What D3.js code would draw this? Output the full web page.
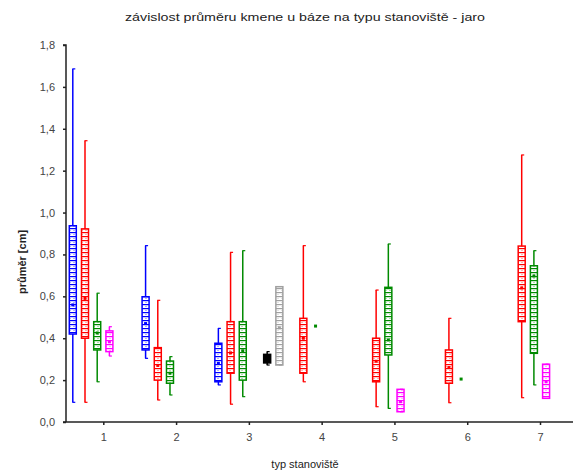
<!DOCTYPE html>
<html><head><meta charset="utf-8">
<script src="https://cdn.jsdelivr.net/npm/d3@7"></script>
<style>body{margin:0;background:#fff}svg{display:block}text{font-family:Arial,"Liberation Sans",sans-serif}</style>
</head><body>
<svg id="c" width="573" height="475"></svg>
<script>
const categories = [1, 2, 3, 4, 5, 6, 7];
const yTicks = [0, 0.2, 0.4, 0.6, 0.8, 1.0, 1.2, 1.4, 1.6, 1.8];
const seriesNames = ["blue", "red", "green", "magenta", "black", "gray"];
const seriesColors = ["#0000ff", "#ff0000", "#008a00", "#ff00ff", "#000000", "#a0a0a0"];
// each entry per category: [min, q1, median, q3, max] or null
const blueVals = [[0.094,0.42,0.559,0.937,1.686],[0.304,0.344,0.47,0.598,0.842],[0.177,0.192,0.28,0.376,0.447],null,null,null,null];
const redVals = [[0.094,0.40,0.59,0.922,1.343],[0.105,0.20,0.27,0.355,0.581],[0.085,0.233,0.33,0.479,0.81],[0.192,0.233,0.40,0.495,0.842],[0.073,0.192,0.29,0.40,0.63],[0.092,0.185,0.26,0.344,0.495],[0.116,0.479,0.64,0.84,1.275]];
const greenVals = [[0.192,0.344,0.425,0.479,0.615],[0.129,0.185,0.233,0.291,0.312],[0.121,0.20,0.34,0.479,0.818],[0.458,0.458,0.458,0.458,0.458],[0.065,0.32,0.392,0.643,0.85],[0.205,0.205,0.205,0.205,0.205],[0.177,0.328,0.697,0.746,0.818]];
const magentaVals = [[0.315,0.336,0.383,0.435,0.455],null,null,null,[0.049,0.049,0.097,0.156,0.156],null,[0.113,0.113,0.192,0.276,0.276]];
const blackVals = [null,null,[0.272,0.282,0.30,0.323,0.336],null,null,null,null];
const grayVals = [null,null,[0.272,0.272,0.45,0.646,0.646],null,null,null,null];
const allSeries = [blueVals, redVals, greenVals, magentaVals, blackVals, grayVals];

const svg = d3.select("#c");
const x = d3.scaleLinear().domain([1, 7]).range([103.3, 540]);
const y = d3.scaleLinear().domain([0, 1.8]).range([422, 45]);
const axisLeftX = 66;
const fmt = v => d3.format(".1f")(v).replace(".", ",");

// patterns: white interior with coloured rungs
const defs = svg.append("defs");
seriesColors.forEach((c, i) => {
  const p = defs.append("pattern").attr("id", "pat" + i).attr("patternUnits", "userSpaceOnUse")
    .attr("width", 4).attr("height", 4);
  p.append("rect").attr("width", 4).attr("height", 4).attr("fill", i === 4 ? c : "#fff");
  p.append("rect").attr("x", 0).attr("y", 0).attr("width", 4).attr("height", 1.2).attr("fill", c);
  p.append("rect").attr("x", 1.5).attr("y", 2).attr("width", 1).attr("height", 1).attr("fill", c).attr("opacity", 0.6);
});

// title
svg.append("text").attr("x", 305).attr("y", 21).attr("text-anchor", "middle")
  .attr("font-size", 11).attr("fill", "#222").attr("textLength", 360).attr("lengthAdjust", "spacingAndGlyphs")
  .text("závislost průměru kmene u báze na typu stanoviště - jaro");

// y axis
const yAxis = d3.axisLeft(y).tickValues(yTicks).tickFormat(fmt).tickSize(3).tickPadding(8);
const ga = svg.append("g").attr("transform", `translate(${axisLeftX},0)`).call(yAxis);
ga.select(".domain").attr("stroke", "#222").attr("stroke-width", 1.5).attr("d", `M-3,${y(1.8)}H0V${y(0)}`);
ga.selectAll(".tick line").attr("stroke", "#222").attr("stroke-width", 1.5);
ga.selectAll(".tick text").attr("font-size", 11).attr("fill", "#444").attr("font-family", "Arial,'Liberation Sans',sans-serif");

// x axis
const xAxis = d3.axisBottom(x).tickValues(categories).tickFormat(d3.format("d")).tickSize(3).tickPadding(8);
const gx = svg.append("g").attr("transform", `translate(0,${y(0)})`).call(xAxis);
gx.select(".domain").attr("stroke", "#222").attr("stroke-width", 1.5).attr("d", `M${axisLeftX - 3},0H573`);
gx.selectAll(".tick line").attr("stroke", "#222").attr("stroke-width", 1.5);
gx.selectAll(".tick text").attr("font-size", 11).attr("fill", "#444").attr("font-family", "Arial,'Liberation Sans',sans-serif");

// axis titles
svg.append("text").attr("transform", `translate(26,${262}) rotate(-90)`).attr("text-anchor", "middle")
  .attr("font-size", 11).attr("font-weight", "bold").attr("fill", "#222").text("průměr [cm]");
svg.append("text").attr("x", 305).attr("y", 468).attr("text-anchor", "middle")
  .attr("font-size", 11).attr("fill", "#222").text("typ stanoviště");

// boxes
const spacing = 12.2, bw = 7;
allSeries.forEach((vals, si) => {
  const col = seriesColors[si];
  const g = svg.append("g");
  vals.forEach((v, ci) => {
    if (!v) return;
    const cx = x(categories[ci]) + (si - 2.5) * spacing;
    const [mn, q1, md, q3, mx] = v;
    if (mx - mn < 0.005) {
      g.append("rect").attr("x", cx - 1.5).attr("y", y(md) - 1.5).attr("width", 3).attr("height", 3).attr("fill", col);
      return;
    }
    g.append("line").attr("x1", cx).attr("x2", cx).attr("y1", y(mx)).attr("y2", y(mn))
      .attr("stroke", col).attr("stroke-width", 1.5);
    [mx, mn].forEach(e => g.append("line").attr("x1", cx - 0.5).attr("x2", cx + 2.5)
      .attr("y1", y(e)).attr("y2", y(e)).attr("stroke", col).attr("stroke-width", 1.2));
    g.append("rect").attr("x", cx - bw / 2).attr("y", y(q3)).attr("width", bw).attr("height", y(q1) - y(q3))
      .attr("fill", `url(#pat${si})`).attr("stroke", col).attr("stroke-width", 1.5);
    g.append("rect").attr("x", cx - 1.5).attr("y", y(md) - 1.5).attr("width", 3).attr("height", 3).attr("fill", col);
  });
});
</script>
</body></html>
